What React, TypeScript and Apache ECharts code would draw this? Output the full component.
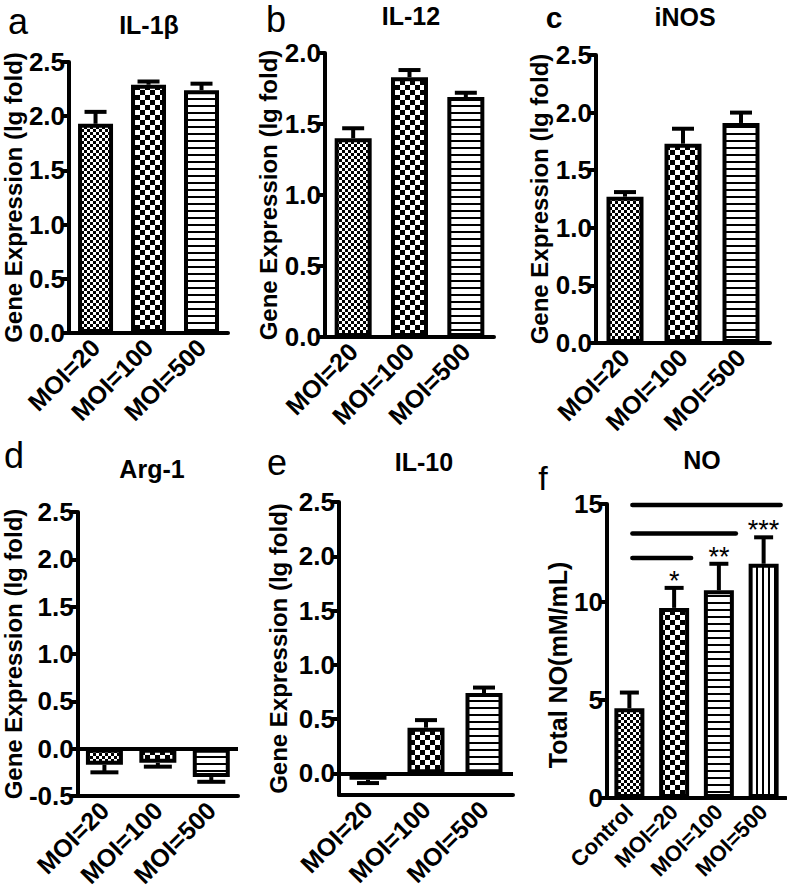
import React, { useEffect, useRef } from 'react';
import * as echarts from 'echarts';

// ---------- data ----------
const moiCats = ['MOI=20', 'MOI=100', 'MOI=500'];
const noCats = ['Control', 'MOI=20', 'MOI=100', 'MOI=500'];

const il1bMean = [1.93, 2.29, 2.24];
const il1bErr = [2.04, 2.32, 2.3];
const il12Mean = [1.4, 1.83, 1.69];
const il12Err = [1.47, 1.88, 1.72];
const inosMean = [1.27, 1.73, 1.91];
const inosErr = [1.31, 1.86, 2.0];
const arg1Mean = [-0.17, -0.15, -0.3];
const arg1Err = [-0.25, -0.19, -0.35];
const il10Mean = [-0.06, 0.42, 0.74];
const il10Err = [-0.09, 0.49, 0.79];
const noMean = [4.58, 9.7, 10.6, 11.95];
const noErr = [5.38, 10.72, 11.95, 13.3];

const geneTicks = [0, 0.5, 1.0, 1.5, 2.0, 2.5];
const sigEnds = [1, 2, 3];
const sigLevels = [12.25, 13.5, 14.95];
const sigStars = ['*', '**', '***'];

const FONT = 'Liberation Sans, Arial, Helvetica, sans-serif';

function makePattern(kind: string) {
  const c = document.createElement('canvas');
  let w = 6, h = 6;
  if (kind === 'coarse') { w = 10; h = 10; }
  if (kind === 'hlines') { w = 4; h = 7; }
  if (kind === 'vlines') { w = 6; h = 4; }
  c.width = w; c.height = h;
  const ctx = c.getContext('2d')!;
  ctx.fillStyle = '#fff';
  ctx.fillRect(0, 0, w, h);
  ctx.fillStyle = '#000';
  if (kind === 'fine') { ctx.fillRect(0, 0, 3, 3); ctx.fillRect(3, 3, 3, 3); }
  if (kind === 'coarse') { ctx.fillRect(0, 0, 5, 5); ctx.fillRect(5, 5, 5, 5); }
  if (kind === 'hlines') { ctx.fillRect(0, 0, 4, 2); }
  if (kind === 'vlines') { ctx.fillRect(0, 0, 2, 4); }
  return { image: c, repeat: 'repeat', imageWidth: w, imageHeight: h } as any;
}

export default function App() {
  const ref = useRef<HTMLDivElement>(null);
  useEffect(() => {
    if (!ref.current) return;
    const chart = echarts.init(ref.current, null, { renderer: 'svg' });
    const pats = [makePattern('fine'), makePattern('coarse'), makePattern('hlines'), makePattern('vlines')];

    const panels = [
      { grid: { left: 69, top: 62, width: 159, height: 271 }, cats: moiCats, mean: il1bMean, err: il1bErr, min: 0, max: 2.5, bw: 35, cap: 22, name: 'Gene Expression (lg fold)', gap: 38, zero: false },
      { grid: { left: 325, top: 53, width: 169, height: 284 }, cats: moiCats, mean: il12Mean, err: il12Err, min: 0, max: 2.0, bw: 37, cap: 22, name: 'Gene Expression (lg fold)', gap: 38, zero: false },
      { grid: { left: 596, top: 55, width: 174, height: 288 }, cats: moiCats, mean: inosMean, err: inosErr, min: 0, max: 2.5, bw: 37, cap: 22, name: 'Gene Expression (lg fold)', gap: 40, zero: false },
      { grid: { left: 69, top: 512, width: 169, height: 284 }, cats: moiCats, mean: arg1Mean, err: arg1Err, min: -0.5, max: 2.5, bw: 37, cap: 28, name: 'Gene Expression (lg fold)', gap: 41, zero: true },
      { grid: { left: 339, top: 502, width: 174, height: 293 }, cats: moiCats, mean: il10Mean, err: il10Err, min: -0.2, max: 2.5, bw: 37, cap: 22, name: 'Gene Expression (lg fold)', gap: 49, zero: true, custom: true },
      { grid: { left: 607, top: 504, width: 179, height: 294 }, cats: noCats, mean: noMean, err: noErr, min: 0, max: 15, bw: 30, cap: 19, name: 'Total NO(mM/mL)', gap: 36, zero: false, isNO: true },
    ];

    const lineSt = { color: '#000', width: 4 };
    const grids: any[] = [], xAxes: any[] = [], yAxes: any[] = [], series: any[] = [];
    panels.forEach((p: any, i) => {
      grids.push({ ...p.grid, containLabel: false });
      xAxes.push({
        type: 'category', gridIndex: i, data: p.cats,
        axisLine: { onZero: false, lineStyle: lineSt },
        axisTick: { alignWithLabel: true, length: 9, lineStyle: lineSt },
        axisLabel: { rotate: 45, interval: 0, margin: 10, color: '#000', fontWeight: 'bold', fontSize: p.isNO ? 22 : 25, fontFamily: FONT },
        splitLine: { show: false },
      });
      const y: any = {
        type: 'value', gridIndex: i, min: p.min, max: p.max,
        axisLine: { show: true, lineStyle: lineSt },
        axisTick: { show: true, length: 7, lineStyle: lineSt },
        axisLabel: { color: '#000', fontWeight: 'bold', fontSize: 26, fontFamily: FONT, margin: 4,
          formatter: (v: number) => (p.isNO ? String(Math.round(v)) : v.toFixed(1)) },
        splitLine: { show: false },
        name: p.name, nameLocation: 'middle', nameGap: p.gap,
        nameTextStyle: { color: '#000', fontWeight: 'bold', fontSize: p.isNO ? 25 : 24, fontFamily: FONT,
          padding: p.isNO ? [0, 28, 0, 0] : 0 },
      };
      if (p.custom) {
        y.axisLabel.customValues = geneTicks;
        y.axisTick.customValues = geneTicks;
      } else {
        y.interval = p.isNO ? 5 : 0.5;
      }
      yAxes.push(y);
      const bar: any = {
        type: 'bar', xAxisIndex: i, yAxisIndex: i, barWidth: p.bw, z: 2,
        data: p.mean.map((v: number, k: number) => ({ value: v, itemStyle: { color: pats[k], borderColor: '#000', borderWidth: 4 } })),
      };
      if (p.zero) {
        bar.markLine = { silent: true, symbol: ['none', 'none'], label: { show: false },
          lineStyle: { color: '#000', width: 4, type: 'solid' }, data: [{ yAxis: 0 }] };
      }
      series.push(bar);
      const cap = p.cap;
      series.push({
        type: 'custom', xAxisIndex: i, yAxisIndex: i, z: 3,
        data: p.mean.map((m: number, k: number) => [k, m, p.err[k]]),
        encode: { x: 0, y: [1, 2] },
        renderItem: (params: any, api: any) => {
          const a = api.coord([api.value(0), api.value(1)]);
          const b = api.coord([api.value(0), api.value(2)]);
          const st = { stroke: '#000', lineWidth: 4 };
          return { type: 'group', children: [
            { type: 'line', shape: { x1: a[0], y1: a[1], x2: b[0], y2: b[1] }, style: st },
            { type: 'line', shape: { x1: b[0] - cap / 2, y1: b[1], x2: b[0] + cap / 2, y2: b[1] }, style: st },
          ] };
        },
      });
    });

    series.push({
      type: 'custom', xAxisIndex: 5, yAxisIndex: 5, z: 4,
      data: sigEnds.map((e, k) => [0, e, sigLevels[k]]),
      encode: { x: 1, y: 2 },
      renderItem: (params: any, api: any) => {
        const a = api.coord([api.value(0), api.value(2)]);
        const b = api.coord([api.value(1), api.value(2)]);
        return { type: 'line', shape: { x1: a[0] + 3, y1: a[1], x2: b[0] + 17, y2: b[1] },
          style: { stroke: '#000', lineWidth: 4.5, lineCap: 'round' } };
      },
    });
    series.push({
      type: 'custom', xAxisIndex: 5, yAxisIndex: 5, z: 4,
      data: sigEnds.map((e) => [e, noErr[e]]),
      encode: { x: 0, y: 1 },
      renderItem: (params: any, api: any) => {
        const pt = api.coord([api.value(0), api.value(1)]);
        return { type: 'text', x: pt[0], y: pt[1] - 7,
          style: { text: sigStars[params.dataIndex], align: 'center', verticalAlign: 'middle',
            fontSize: 27, fontFamily: FONT, fill: '#000' } };
      },
    });

    const letter = (t: string, x: number, y: number, size: number, bold = false) => ({
      type: 'text', x, y, style: { text: t, align: 'center', verticalAlign: 'middle', fontSize: size,
        fontWeight: bold ? 'bold' : 'normal', fontFamily: FONT, fill: '#000' } });
    const title = (t: string, x: number, y: number) => ({
      type: 'text', x, y, style: { text: t, align: 'center', verticalAlign: 'middle', fontSize: 25,
        fontWeight: 'bold', fontFamily: FONT, fill: '#000' } });

    chart.setOption({
      animation: false,
      backgroundColor: '#fff',
      grid: grids, xAxis: xAxes, yAxis: yAxes, series,
      graphic: [
        letter('a', 18, 21, 36), letter('b', 276, 19, 36), letter('c', 554, 17, 30, true),
        letter('d', 14, 455, 36), letter('e', 277, 462, 36), letter('f', 543, 478, 34),
        title('IL-1β', 149, 25), title('IL-12', 411, 16), title('iNOS', 685, 17),
        title('Arg-1', 152, 469), title('IL-10', 424, 462), title('NO', 702, 460),
      ],
    });
    return () => chart.dispose();
  }, []);
  return <div ref={ref} style={{ position: 'absolute', left: 0, top: 0, width: 787, height: 891, background: '#fff' }} />;
}
